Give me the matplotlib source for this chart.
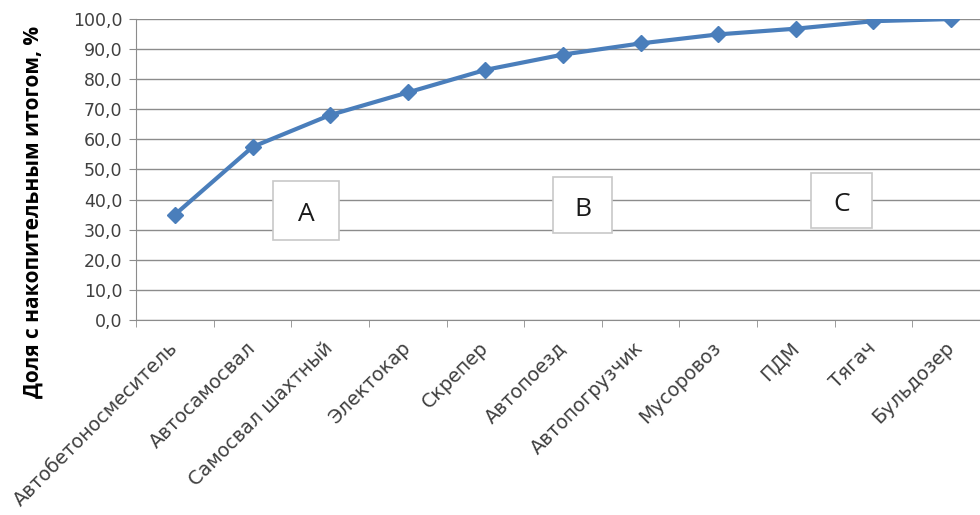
import matplotlib.pyplot as plt
from matplotlib.patches import Rectangle
import numpy as np

# Cumulative share by machine type
categories = ['Автобетоносмеситель', 'Автосамосвал', 'Самосвал шахтный', 'Электокар',
              'Скрепер', 'Автопоезд', 'Автопогрузчик', 'Мусоровоз', 'ПДМ', 'Тягач', 'Бульдозер']
cumulative = [35.0, 57.5, 68.1, 75.6, 83.1, 88.2, 91.9, 94.9, 96.8, 99.3, 100.0]
y_ticks = np.arange(0, 101, 10)
groups = ['A', 'B', 'C']

plt.rcParams['font.family'] = ['DejaVu Sans']

fig = plt.figure(figsize=(9.8, 5.15), dpi=100)
ax = fig.add_axes([0.139, 0.379, 0.871, 0.584])

x = np.arange(len(categories))
ax.plot(x, cumulative, color='#4a7ebb', lw=3, marker='D', ms=8, zorder=3)

ax.set_xlim(-0.5, len(categories) - 0.5)
ax.set_ylim(0, 100)
ax.set_yticks(y_ticks)
ax.set_yticklabels([f'{v:.1f}'.replace('.', ',') for v in y_ticks], fontsize=12.5, color='#404040')
ax.yaxis.grid(True, color='#8c8c8c', lw=1)
ax.set_axisbelow(True)

ax.set_xticks(x)
ax.set_xticklabels(categories, rotation=45, ha='right', va='center', rotation_mode='anchor',
                   fontsize=13.8, color='#404040')
ax.tick_params(axis='x', which='major', length=0, pad=18)
ax.set_xticks(np.arange(-0.5, len(categories), 1), minor=True)
ax.tick_params(axis='x', which='minor', length=5, color='#8c8c8c')
ax.tick_params(axis='y', length=5, color='#8c8c8c', pad=5)

for side in ['top', 'right']:
    ax.spines[side].set_visible(False)
for side in ['left', 'bottom']:
    ax.spines[side].set_color('#8c8c8c')

ax.set_ylabel('Доля с накопительным итогом, %', fontsize=15, fontweight='bold',
              family=['Open Sans', 'DejaVu Sans'])
ax.yaxis.set_label_coords(-0.108, 0.36)

# group labels in boxes: centre x, centre y, width, height (data units)
box_pos = [(1.69, 36.4, 0.85, 19.6), (5.25, 38.2, 0.75, 18.6), (8.59, 39.7, 0.79, 18.3)]
for g, (bx, by, bw, bh) in zip(groups, box_pos):
    ax.add_patch(Rectangle((bx - bw / 2, by - bh / 2), bw, bh, fc='white', ec='#c8c8c8',
                           lw=1.2, zorder=4))
    ax.text(bx, by - 1.5, g, fontsize=19, ha='center', va='center', color='#1a1a1a',
            family=['Open Sans', 'DejaVu Sans'], zorder=5)

fig.savefig('out.png', dpi=100)
